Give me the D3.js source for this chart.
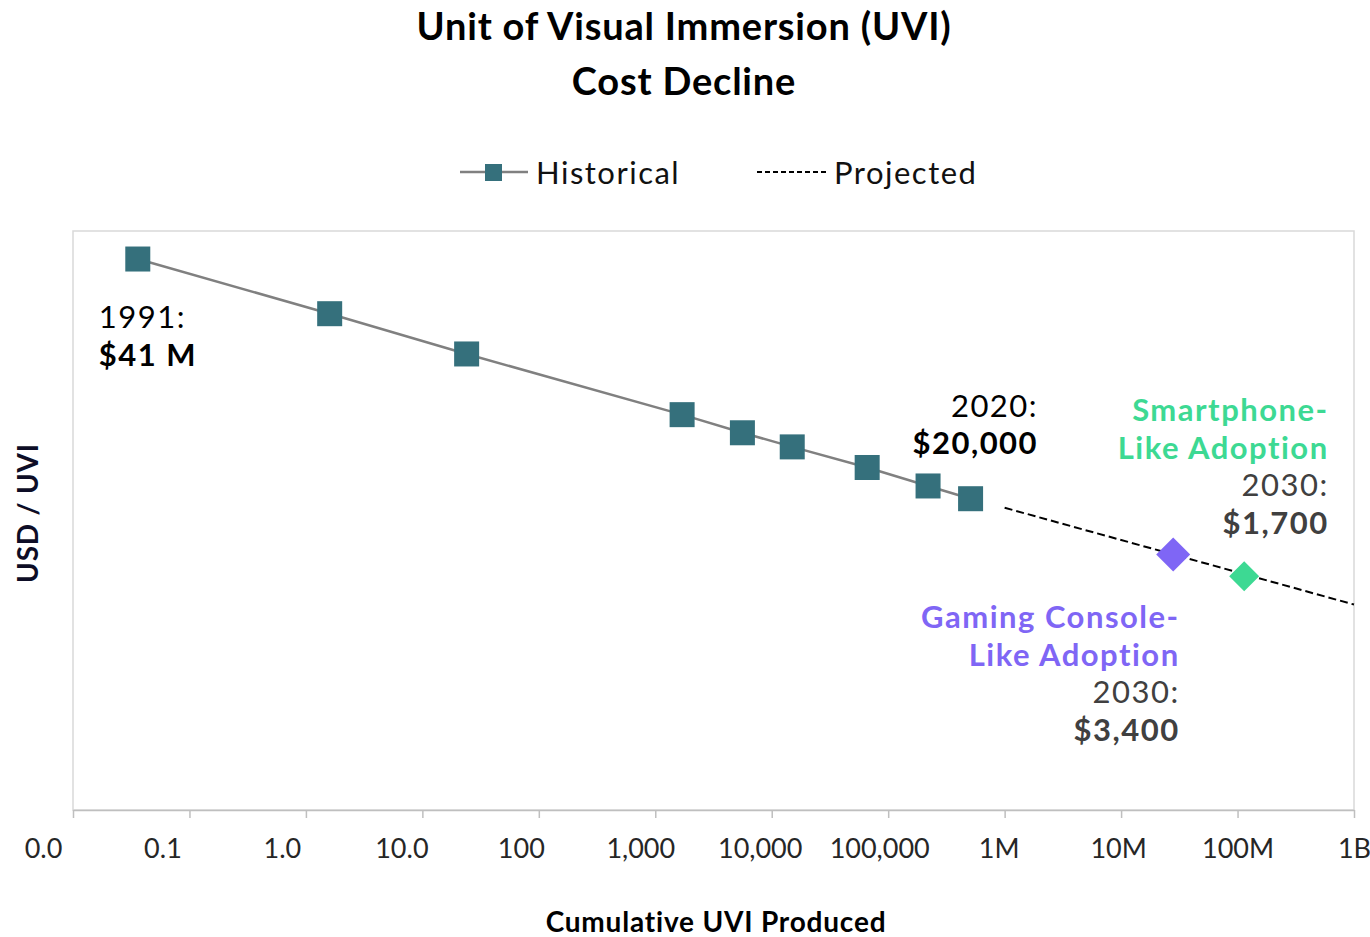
<!DOCTYPE html>
<html lang="en">
<head>
	<title>UVI Cost Decline</title>
	<script src="https://d3js.org/d3.v7.min.js" charset="utf-8"></script>
	<style>
		body { margin: 0; background: #fff; }
		text { font-family: Lato, 'Open Sans', sans-serif; }
		.axis path, .axis line { fill: none; stroke: #bfbfbf; stroke-width: 1.5; }
		.axis text { font-size: 27px; fill: #262626; }
	</style>
</head>
<body>
	<script>
		// Chart data
		var tickValues = [0.01, 0.1, 1, 10, 100, 1e3, 1e4, 1e5, 1e6, 1e7, 1e8, 1e9];
		var tickLabels = ["0.0", "0.1", "1.0", "10.0", "100", "1,000", "10,000", "100,000", "1M", "10M", "100M", "1B"];

		// cumulative UVI produced vs USD per UVI
		var histX = [0.036, 1.6, 24, 1700, 5600, 15000, 66000, 220000, 510000];
		var histY = [41e6, 7.2e6, 2.0e6, 290000, 163000, 104000, 54000, 30000, 20000];

		var projX = [1e6, 2.8e7, 1e9];
		var projY = [15000, 3400, 690];

		var scenarioNames = ["Gaming Console-Like Adoption", "Smartphone-Like Adoption"];
		var scenarioX = [2.8e7, 1.14e8];
		var scenarioY = [3400, 1700];

		function createVisualization(){
			var w = 1370, h = 937;
			var left = 73, right = 1354, top = 231, bottom = 810;

			var svg = d3.select("body")
				.append("svg")
				.attr("width", w)
				.attr("height", h);

			var xScale = d3.scaleLog()
				.domain([0.01, 1e9])
				.range([left, right]);

			var yScale = d3.scaleLog()
				.domain([1, 1e8])
				.range([bottom, top]);

			// plot area border
			svg.append("rect")
				.attr("x", left)
				.attr("y", top)
				.attr("width", right - left)
				.attr("height", bottom - top)
				.attr("fill", "none")
				.attr("stroke", "#d9d9d9")
				.attr("stroke-width", 1.5);

			// x axis
			var xAxis = d3.axisBottom(xScale)
				.tickValues(tickValues)
				.tickFormat(function(d, i){ return tickLabels[i]; })
				.tickSize(8)
				.tickSizeOuter(0)
				.tickPadding(14);

			var gx = svg.append("g")
				.attr("class", "axis")
				.attr("transform", "translate(0," + bottom + ")")
				.call(xAxis);
			gx.selectAll("text")
				.attr("dy", "0.95em")
				.attr("dx", function(d, i){ return Math.min(0, -30 + 3 * i); });

			// axis titles
			svg.append("text")
				.attr("text-anchor", "middle")
				.attr("transform", "translate(38," + 513 + ") rotate(-90)")
				.attr("font-size", 28)
				.attr("font-weight", "bold")
				.attr("letter-spacing", 0.8)
				.attr("fill", "#0d0d26")
				.text("USD / UVI");

			svg.append("text")
				.attr("text-anchor", "middle")
				.attr("x", 716)
				.attr("y", 932)
				.attr("font-size", 28)
				.attr("font-weight", "bold")
				.attr("letter-spacing", 0.8)
				.attr("fill", "#000")
				.text("Cumulative UVI Produced");

			// title
			svg.append("text")
				.attr("text-anchor", "middle")
				.attr("x", 684)
				.attr("y", 40)
				.attr("font-size", 38)
				.attr("font-weight", "bold")
				.attr("letter-spacing", 0.8)
				.text("Unit of Visual Immersion (UVI)");
			svg.append("text")
				.attr("text-anchor", "middle")
				.attr("x", 684)
				.attr("y", 95)
				.attr("font-size", 38)
				.attr("font-weight", "bold")
				.attr("letter-spacing", 0.8)
				.text("Cost Decline");

			// legend
			var lg = svg.append("g");
			lg.append("line")
				.attr("x1", 460).attr("x2", 528).attr("y1", 172).attr("y2", 172)
				.attr("stroke", "#808080").attr("stroke-width", 2.5);
			lg.append("rect")
				.attr("x", 485).attr("y", 164).attr("width", 17).attr("height", 17)
				.attr("fill", "#35707c");
			lg.append("text")
				.attr("x", 536).attr("y", 184)
				.attr("font-size", 31)
				.attr("letter-spacing", 1.5)
				.attr("fill", "#111")
				.text("Historical");
			lg.append("line")
				.attr("x1", 757).attr("x2", 827).attr("y1", 172).attr("y2", 172)
				.attr("stroke", "#000").attr("stroke-width", 2)
				.attr("stroke-dasharray", "5,3");
			lg.append("text")
				.attr("x", 834).attr("y", 184)
				.attr("font-size", 31)
				.attr("letter-spacing", 1.5)
				.attr("fill", "#111")
				.text("Projected");

			var line = d3.line()
				.x(function(d){ return xScale(d[0]); })
				.y(function(d){ return yScale(d[1]); });

			var hist = d3.zip(histX, histY);
			var proj = d3.zip(projX, projY);

			// projected dashed line (starts a bit after the last historical point)
			svg.append("path")
				.datum(proj)
				.attr("d", line)
				.attr("fill", "none")
				.attr("stroke", "#000")
				.attr("stroke-width", 2)
				.attr("stroke-dasharray", "8,4");

			// historical line
			svg.append("path")
				.datum(hist)
				.attr("d", line)
				.attr("fill", "none")
				.attr("stroke", "#808080")
				.attr("stroke-width", 2.5);

			var sq = 25;
			svg.selectAll("rect.pt")
				.data(hist)
				.enter()
				.append("rect")
				.attr("class", "pt")
				.attr("x", function(d){ return xScale(d[0]) - sq / 2; })
				.attr("y", function(d){ return yScale(d[1]) - sq / 2; })
				.attr("width", sq)
				.attr("height", sq)
				.attr("fill", "#35707c");

			// scenario diamonds
			var scColors = ["#7f66f5", "#3dd993"];
			var scSizes = [17, 15];
			svg.selectAll("path.dia")
				.data(d3.zip(scenarioX, scenarioY))
				.enter()
				.append("path")
				.attr("class", "dia")
				.attr("d", function(d, i){
					var s = scSizes[i];
					return "M0," + (-s) + "L" + s + ",0L0," + s + "L" + (-s) + ",0Z";
				})
				.attr("transform", function(d){ return "translate(" + xScale(d[0]) + "," + yScale(d[1]) + ")"; })
				.attr("fill", function(d, i){ return scColors[i]; });

			// annotations
			function note(x, y, anchor, lines){
				var g = svg.append("g");
				lines.forEach(function(l, i){
					g.append("text")
						.attr("x", x)
						.attr("y", y + i * 37.5)
						.attr("dx", anchor == "end" ? 1.5 : 0)
						.attr("text-anchor", anchor)
						.attr("font-size", 31)
						.attr("letter-spacing", 1.5)
						.attr("font-weight", l.bold ? "bold" : "normal")
						.attr("fill", l.color)
						.text(l.text);
				});
			}

			note(xScale(histX[0]) - 39, yScale(histY[0]) + 69, "start", [
				{text: "1991:", color: "#000"},
				{text: "$41 M", color: "#000", bold: true}
			]);
			note(xScale(histX[8]) + 66, yScale(histY[8]) - 82, "end", [
				{text: "2020:", color: "#000"},
				{text: "$20,000", color: "#000", bold: true}
			]);
			note(xScale(scenarioX[1]) + 83, yScale(scenarioY[1]) - 155, "end", [
				{text: "Smartphone-", color: scColors[1], bold: true},
				{text: "Like Adoption", color: scColors[1], bold: true},
				{text: "2030:", color: "#404040"},
				{text: "$1,700", color: "#404040", bold: true}
			]);
			note(xScale(scenarioX[0]) + 5, yScale(scenarioY[0]) + 74, "end", [
				{text: "Gaming Console-", color: scColors[0], bold: true},
				{text: "Like Adoption", color: scColors[0], bold: true},
				{text: "2030:", color: "#404040"},
				{text: "$3,400", color: "#404040", bold: true}
			]);
		}

		createVisualization();
	</script>
</body>
</html>
